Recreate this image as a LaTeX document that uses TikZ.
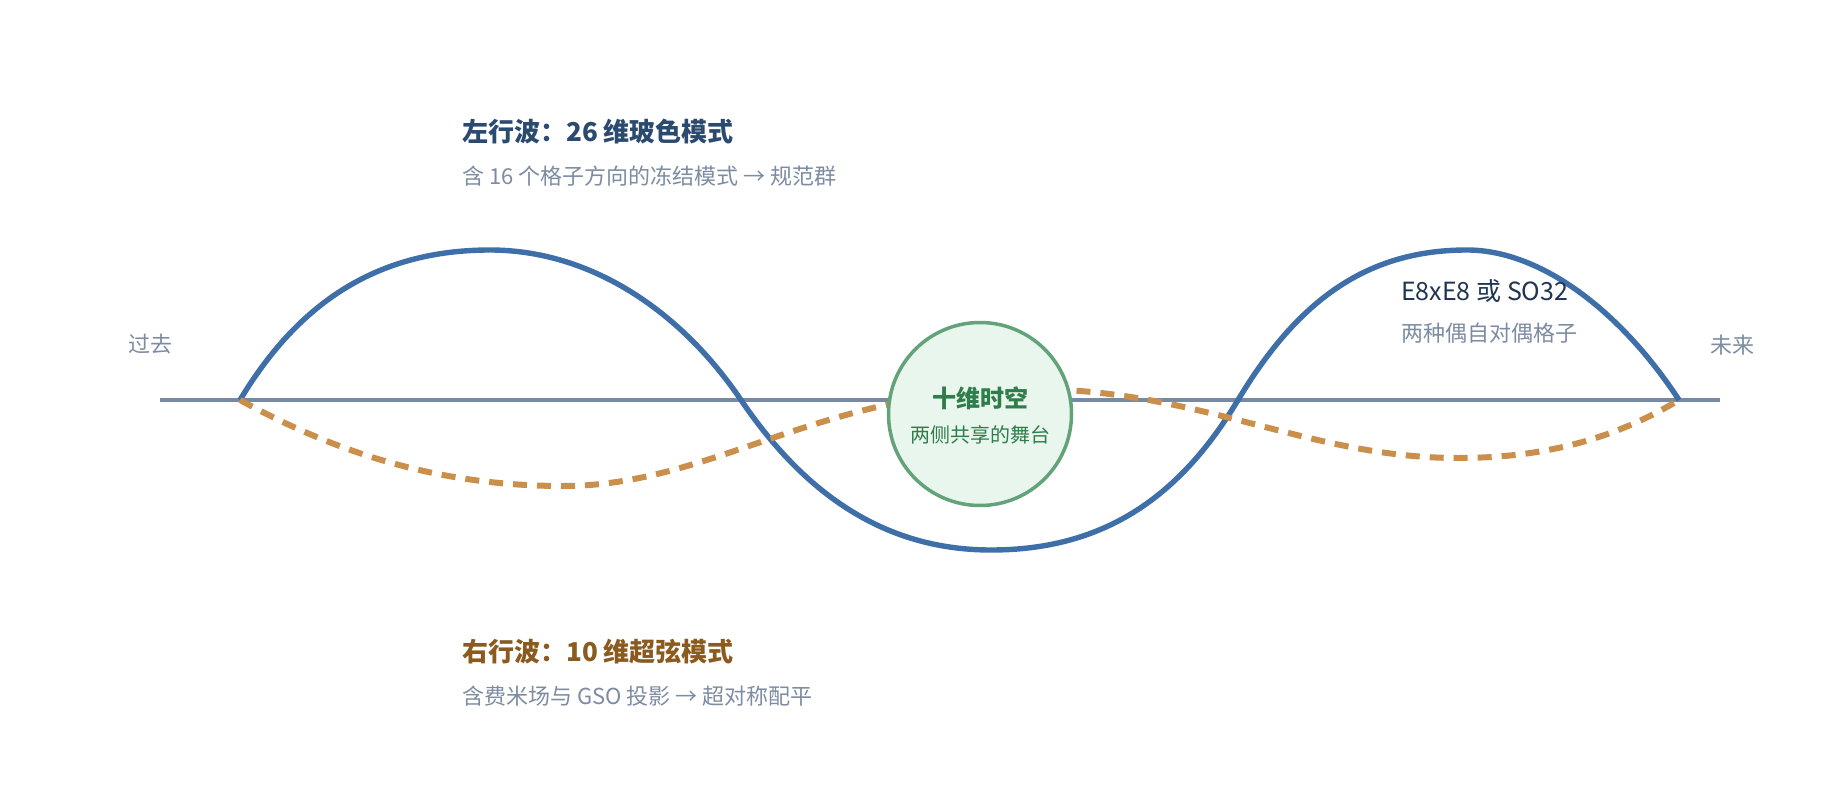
\documentclass[tikz,border=0pt]{standalone}
\usepackage{fontspec}
\setmainfont{Noto Sans CJK SC}
\newcommand\fsz[1]{\fontsize{#1pt}{#1pt}\selectfont}
\definecolor{wblue}{HTML}{3E6FA8}
\definecolor{worange}{HTML}{C98F4B}
\definecolor{waxis}{HTML}{7889A3}
\definecolor{cfill}{HTML}{E9F6ED}
\definecolor{cline}{HTML}{63A37A}
\definecolor{cgreen}{HTML}{2E7D4B}
\definecolor{tblue}{HTML}{2B4A6F}
\definecolor{tbrown}{HTML}{8B5A1E}
\definecolor{tgray}{HTML}{7D8CA3}
\definecolor{tnavy}{HTML}{1F3553}
\tikzset{
  lbl/.style={inner sep=0pt, anchor=base west},
  clbl/.style={inner sep=0pt, anchor=base},
  axisline/.style={draw=waxis, line width=3.5pt},
  bluewave/.style={draw=wblue, line width=5.4pt},
  orangewave/.style={draw=worange, line width=6pt, dash pattern=on 14pt off 10pt},
  stage/.style={circle, draw=cline, fill=cfill, line width=3.5pt, minimum size=183pt, inner sep=0pt},
}
\begin{document}
\begin{tikzpicture}[x=1pt,y=-1pt]
\useasboundingbox (0,0) rectangle (1840,800);
\fill[white] (0,0) rectangle (1840,800);

% axis
\coordinate (axL) at (160,400);
\coordinate (axR) at (1720,400);
\draw[axisline] (axL) -- (axR);

% blue wave (left-moving, 26D bosonic)
\draw[bluewave] (240,400) .. controls (300,300) and (380,250) .. (490,250)
  .. controls (590,250) and (680,310) .. (741,400)
  .. controls (802,490) and (881,550) .. (991,550)
  .. controls (1101,550) and (1178,500) .. (1238,400)
  .. controls (1298,300) and (1367,250) .. (1467,250)
  .. controls (1540,250) and (1620,310) .. (1679,400);

% orange dashed wave (right-moving, 10D superstring)
\draw[orangewave] (240,400) .. controls (340,455) and (443,486) .. (563,486)
  .. controls (713,486) and (820,389) .. (1030,389)
  .. controls (1200,389) and (1308,458) .. (1458,458)
  .. controls (1550,458) and (1619,436) .. (1679,400);

% central circle
\node[stage] (st) at (980,414) {};
\node[clbl, text=cgreen, font=\fsz{24}\bfseries] (stT) at (980,407) {十维时空};
\node[clbl, text=cgreen, font=\fsz{20}] (stS) at (980,442) {两侧共享的舞台};

% side labels
\node[clbl, text=tgray, font=\fsz{22}] (past) at (150,352) {过去};
\node[clbl, text=tgray, font=\fsz{22}] (future) at (1732,353) {未来};

% top text
\node[lbl, text=tblue, font=\fsz{26}\bfseries] (lt) at (462,141.6) {左行波：26 维玻色模式};
\node[lbl, text=tgray, font=\fsz{22}] (ls) at (462,184) {含 16 个格子方向的冻结模式 → 规范群};

% bottom text
\node[lbl, text=tbrown, font=\fsz{26}\bfseries] (rt) at (462,661.6) {右行波：10 维超弦模式};
\node[lbl, text=tgray, font=\fsz{22}] (rs) at (462,704) {含费米场与 GSO 投影 → 超对称配平};

% right annotation
\node[lbl, text=tnavy, font=\fsz{25}] (gt) at (1401,300.5) {E8xE8 或 SO32};
\node[lbl, text=tgray, font=\fsz{22}] (gs) at (1401,341) {两种偶自对偶格子};
\end{tikzpicture}
\end{document}
